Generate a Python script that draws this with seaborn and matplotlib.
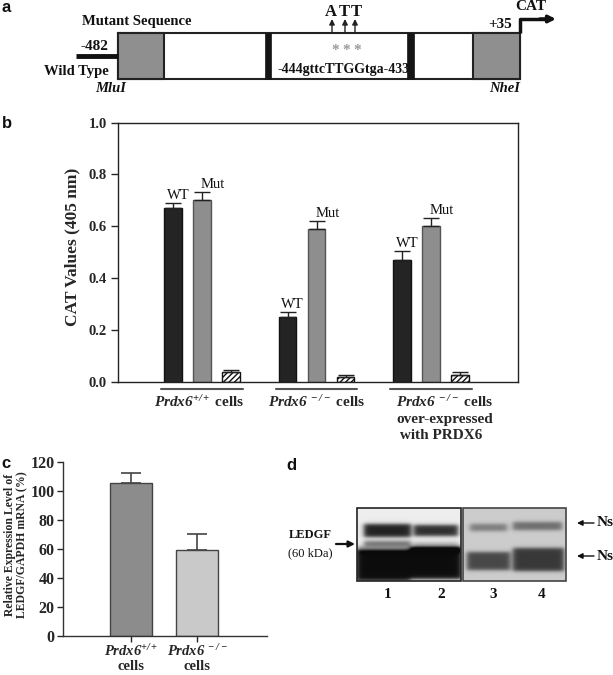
import numpy as np
import pandas as pd
import matplotlib
matplotlib.use("Agg")
import matplotlib.pyplot as plt
import matplotlib.transforms as mtransforms
from matplotlib.patches import Rectangle
import seaborn as sns

# ---------------- data ----------------
# panel b
groups_b = ["Prdx6+/+", "Prdx6-/-", "Prdx6-/- +PRDX6"]
constructs = ["WT", "Mut", "Control"]
wt_vals = [0.67, 0.25, 0.47]
wt_err = [0.02, 0.02, 0.035]
mut_vals = [0.70, 0.59, 0.60]
mut_err = [0.03, 0.03, 0.03]
ctrl_vals = [0.036, 0.017, 0.026]
ctrl_err = [0.01, 0.01, 0.01]
yticks_b = [0.0, 0.2, 0.4, 0.6, 0.8, 1.0]

# panel c
cats_c = ["Prdx6+/+", "Prdx6-/-"]
c_vals = [105, 59]
c_err = [7, 11]
yticks_c = [0, 20, 40, 60, 80, 100, 120]

# panel d lane labels
lanes = ["1", "2", "3", "4"]

# ---------------- style ----------------
sns.set_theme(style="white")
plt.rcParams["font.family"] = ["Liberation Serif", "DejaVu Serif"]
plt.rcParams["mathtext.fontset"] = "custom"
plt.rcParams["mathtext.rm"] = "Liberation Serif:italic:bold"
plt.rcParams["mathtext.it"] = "Liberation Serif:italic:bold"
plt.rcParams["mathtext.bf"] = "Liberation Serif:italic:bold"
plt.rcParams["hatch.linewidth"] = 1.0

W, H = 613, 675
fig = plt.figure(figsize=(W / 100, H / 100), dpi=100)
fig.patch.set_facecolor("white")


def frac(x0, y0, x1, y1):
    return [x0 / W, 1 - y1 / H, (x1 - x0) / W, (y1 - y0) / H]


# ---------------- panel b ----------------
axb = fig.add_axes(frac(118, 122.5, 518, 381.5))
df_b = pd.DataFrame({
    "group": groups_b * 3,
    "construct": np.repeat(constructs, 3),
    "value": wt_vals + mut_vals + ctrl_vals,
})
sns.barplot(data=df_b, x="group", y="value", hue="construct", order=groups_b,
            hue_order=constructs, palette=["#242424", "#8e8e8e", "white"],
            width=0.76, gap=0.4, errorbar=None, legend=False, ax=axb,
            linewidth=1.0)
edgecols = ["#111111", "#555555", "#111111"]
all_vals = [wt_vals, mut_vals, ctrl_vals]
all_errs = [wt_err, mut_err, ctrl_err]
bars = list(axb.patches)
for i in range(3):
    for j in range(3):
        p = bars[i * 3 + j]
        p.set_edgecolor(edgecols[i])
        if i == 2:
            p.set_hatch("//////")
    xs = [bars[i * 3 + j].get_x() + bars[i * 3 + j].get_width() / 2 for j in range(3)]
    axb.errorbar(xs, all_vals[i], yerr=[[0] * 3, all_errs[i]], fmt="none",
                 ecolor="#222222", elinewidth=1.0, capsize=6, capthick=1.0)
    if i < 2:
        dx = 5 if i == 0 else 11
        for j in range(3):
            axb.annotate(constructs[i], (xs[j], all_vals[i][j] + all_errs[i][j]),
                         xytext=(dx, 4), textcoords="offset pixels",
                         ha="center", va="baseline", fontsize=10.5,
                         family="Liberation Serif", color="#111")

axb.set_xlim(-0.734, 2.76)
axb.set_ylim(0, 1.0)
axb.set_yticks(yticks_b)
axb.set_yticklabels([f"{v:.1f}" for v in yticks_b], fontsize=10.5, fontweight="bold")
axb.set_xticks([])
axb.set_xlabel("")
axb.set_ylabel("CAT Values (405 nm)", fontsize=12.5, fontweight="bold")
axb.yaxis.set_label_coords(-0.095, 0.518)
axb.tick_params(axis="y", direction="out", length=5, width=1, left=True, pad=3)
for s in axb.spines.values():
    s.set_color("#222")
    s.set_linewidth(1.0)

tb = mtransforms.blended_transform_factory(axb.transData, axb.transAxes)
for k in range(3):
    axb.plot([k - 0.355, k + 0.355], [-0.029, -0.029], transform=tb,
             color="#555", lw=1.5, clip_on=False)
axb.text(-0.02, -0.05, r"$Prdx6^{+/+}$ cells", transform=tb, ha="center",
         va="top", fontsize=11, fontweight="bold")
axb.text(1.0, -0.05, r"$Prdx6^{\ -/-}$ cells", transform=tb, ha="center",
         va="top", fontsize=11, fontweight="bold")
axb.text(1.694, -0.05, r"$Prdx6^{\ -/-}$ cells" + "\nover-expressed\n with PRDX6",
         transform=tb, ha="left", va="top", fontsize=11, fontweight="bold",
         linespacing=1.28)

# ---------------- panel c ----------------
axc = fig.add_axes(frac(63, 461.7, 267, 636))
sns.barplot(x=cats_c, y=c_vals, hue=cats_c, palette=["#8c8c8c", "#c9c9c9"],
            width=0.63, errorbar=None, legend=False, ax=axc,
            edgecolor="#444444", linewidth=1.0)
cxs = [p.get_x() + p.get_width() / 2 for p in axc.patches]
axc.errorbar(cxs, c_vals, yerr=[[0, 0], c_err], fmt="none", ecolor="#444444",
             elinewidth=1.2, capsize=7, capthick=1.2)
axc.set_xlim(-1.02, 2.045)
axc.set_ylim(0, 120)
axc.set_yticks(yticks_c)
axc.set_yticklabels([str(v) for v in yticks_c], fontsize=11.5, fontweight="bold")
axc.set_xticks([0, 1])
axc.set_xticklabels([r"$Prdx6^{+/+}$" + "\ncells",
                     r"$Prdx6^{\ -/-}$" + "\ncells"],
                    fontsize=10.5, fontweight="bold", linespacing=1.12)
axc.tick_params(axis="both", direction="out", length=4, width=1, left=True,
                bottom=True, pad=2)
axc.tick_params(axis="x", pad=1)
axc.set_ylabel("Relative Expression Level of\nLEDGF/GAPDH mRNA (%)",
               fontsize=8.5, fontweight="bold", linespacing=1.1)
axc.yaxis.set_label_coords(-0.168, 0.523)
sns.despine(ax=axc)
for s in ["left", "bottom"]:
    axc.spines[s].set_color("#333")
    axc.spines[s].set_linewidth(1.0)

# ---------------- overlay (panel a, d, labels) ----------------
ov = fig.add_axes([0, 0, 1, 1])
ov.set_xlim(0, W)
ov.set_ylim(H, 0)
ov.axis("off")
ov.patch.set_alpha(0)

bold = dict(fontweight="bold", family="Liberation Serif", color="#111")
# panel labels
for lab, x, y in [("a", 2, 7), ("b", 2, 124), ("c", 1, 463), ("d", 286, 466)]:
    ov.text(x, y, lab, fontsize=12, fontweight="bold", family="Liberation Sans",
            ha="left", va="center", color="#111")

# panel a schematic
ov.add_patch(Rectangle((118, 33), 402, 46, fc="white", ec="#222", lw=1.5))
ov.add_patch(Rectangle((118, 33), 46, 46, fc="#8f8f8f", ec="#222", lw=1.5))
ov.add_patch(Rectangle((473, 33), 47, 46, fc="#8f8f8f", ec="#222", lw=1.5))
ov.add_patch(Rectangle((265, 33), 6, 46, fc="#151515", ec="#151515", lw=0.5))
ov.add_patch(Rectangle((407, 33), 7, 46, fc="#151515", ec="#151515", lw=0.5))
ov.plot([76, 118], [56, 56], color="#111", lw=3.5, solid_capstyle="butt")
ov.plot([520, 520, 545], [33, 19, 19], color="#111", lw=2.5, solid_capstyle="butt")
ov.annotate("", xy=(556, 19), xytext=(540, 19),
            arrowprops=dict(arrowstyle="-|>", lw=2.5, color="#111",
                            mutation_scale=10, shrinkA=0, shrinkB=0))
for x in [332, 345, 355]:
    ov.annotate("", xy=(x, 19), xytext=(x, 33),
                arrowprops=dict(arrowstyle="-|>", lw=1.0, color="#222",
                                mutation_scale=8, shrinkA=0, shrinkB=0))
for x, t in [(331, "A"), (344, "T"), (356, "T")]:
    ov.text(x, 12, t, fontsize=12, ha="center", va="center", **bold)
for x in [335, 346, 357]:
    ov.text(x, 50, "*", fontsize=11, ha="center", va="center", color="#9a9a9a",
            fontweight="bold", family="Liberation Serif")
ov.text(82, 22, "Mutant Sequence", fontsize=10.5, ha="left", va="center", **bold)
ov.text(108, 47, "-482", fontsize=11, ha="right", va="center", **bold)
ov.text(44, 71, "Wild Type", fontsize=10.5, ha="left", va="center", **bold)
ov.text(95, 89, "MluI", fontsize=10.5, ha="left", va="center", style="italic", **bold)
ov.text(520, 89, "NheI", fontsize=10.5, ha="right", va="center", style="italic", **bold)
ov.text(512, 24, "+35", fontsize=11, ha="right", va="center", **bold)
ov.text(515, 7, "CAT", fontsize=11, ha="left", va="center", **bold)
ov.text(343, 70, "-444gttcTTGGtga-433", fontsize=10, ha="center", va="center", **bold)

# panel d blot
def blot(x0, x1, y0, y1, bg, bands):
    xx, yy = np.meshgrid(np.arange(x0, x1) + 0.5, np.arange(y0, y1) + 0.5)
    img = np.full(xx.shape, bg)
    for bx0, bx1, by0, by1, d in bands:
        px = 0.5 * (np.tanh((xx - bx0) / 3.0) - np.tanh((xx - bx1) / 3.0))
        py = 0.5 * (np.tanh((yy - by0) / 2.2) - np.tanh((yy - by1) / 2.2))
        img = img - d * px * py
    return np.clip(img, 0.04, 1.0)

left_bands = [
    (364, 411, 524, 537, 0.80), (414, 458, 525, 536, 0.75),
    (364, 411, 541, 546, 0.50), (414, 458, 542, 546, 0.22),
    (357, 461, 546, 552, 0.30),
    (356, 410, 550, 581, 0.88), (410, 462, 547, 579, 0.88),
]
right_bands = [
    (470, 507, 524, 531, 0.32), (513, 562, 522, 530, 0.38),
    (467, 510, 552, 570, 0.52), (513, 564, 548, 571, 0.58),
]
ov.imshow(blot(357, 461, 508, 581, 0.93, left_bands), cmap="gray", vmin=0, vmax=1,
          extent=(357, 461, 581, 508), aspect="auto", interpolation="bilinear")
ov.imshow(blot(463, 566, 508, 581, 0.80, right_bands), cmap="gray", vmin=0, vmax=1,
          extent=(463, 566, 581, 508), aspect="auto", interpolation="bilinear")
ov.add_patch(Rectangle((357, 508), 104, 73, fill=False, ec="#222", lw=1.2))
ov.add_patch(Rectangle((463, 508), 103, 73, fill=False, ec="#444", lw=1.2))
ov.set_xlim(0, W)
ov.set_ylim(H, 0)
for x, t in zip([388, 441, 493, 542], lanes):
    ov.text(x, 594, t, fontsize=11, ha="center", va="center", **bold)
ov.text(332, 535, "LEDGF", fontsize=9, ha="right", va="center", **bold)
ov.text(332, 553, "(60 kDa)", fontsize=9, ha="right", va="center",
        family="Liberation Serif", color="#111")
ov.annotate("", xy=(355, 544), xytext=(336, 544),
            arrowprops=dict(arrowstyle="-|>", lw=1.6, color="#111",
                            mutation_scale=9, shrinkA=0, shrinkB=0))
for y in [523, 556]:
    ov.annotate("", xy=(577, y), xytext=(594, y),
                arrowprops=dict(arrowstyle="-|>", lw=1.0, color="#111",
                                mutation_scale=8, shrinkA=0, shrinkB=0))
    ov.text(597, y, "Ns", fontsize=11, ha="left", va="center", **bold)

fig.savefig("out.png", dpi=100, facecolor="white")
